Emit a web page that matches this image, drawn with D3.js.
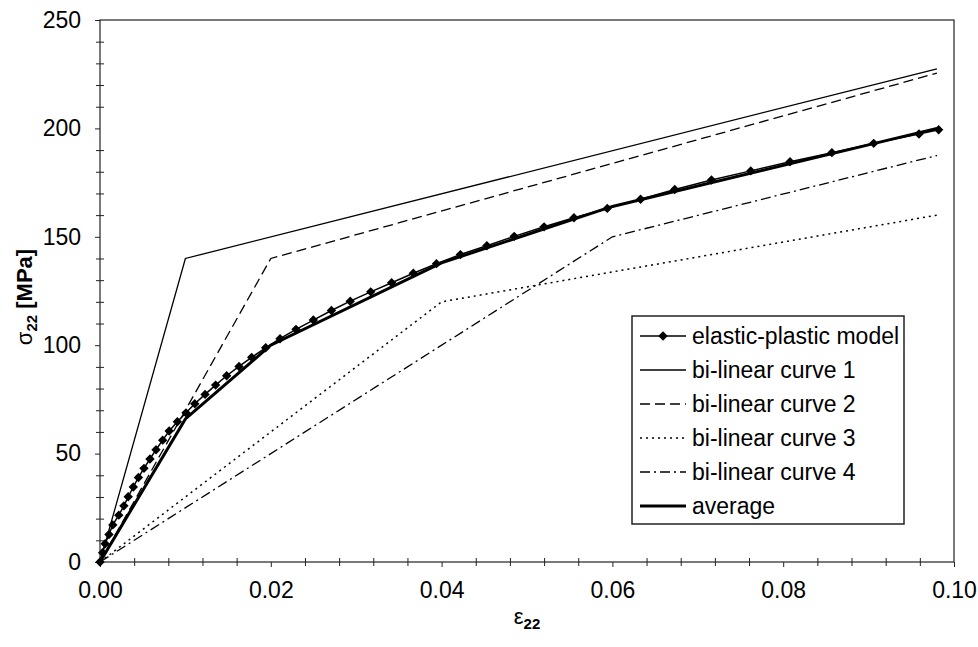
<!DOCTYPE html>
<html>
<head>
<meta charset="utf-8">
<script src="https://cdn.jsdelivr.net/npm/d3@7"></script>
<style>
  body { margin: 0; background: #fff; }
  svg text { font-family: "Liberation Sans", Arial, sans-serif; fill: #000; }
</style>
</head>
<body>
<div id="grafico"></div>
<script>
// dados
const epStrain = [0, 0.0003, 0.0006, 0.00105, 0.0015, 0.0022, 0.0028, 0.0033, 0.0039, 0.0045,
  0.00515, 0.00585, 0.00656, 0.00734, 0.0081, 0.00906, 0.01007, 0.0111, 0.0123, 0.01354,
  0.01483, 0.01628, 0.01776, 0.0194, 0.02108, 0.02295, 0.02498, 0.0271, 0.0293, 0.0317,
  0.03415, 0.03669, 0.0394, 0.0422, 0.0453, 0.0485, 0.052, 0.0555, 0.0594, 0.0633,
  0.0673, 0.0716, 0.0762, 0.0808, 0.0857, 0.0906, 0.0959, 0.0982];
const epStress = [0, 4.3, 8.4, 12.7, 17.1, 21.6, 25.9, 30.1, 34.6, 39.0,
  43.2, 47.5, 51.8, 56.2, 60.4, 64.7, 68.8, 73.0, 77.3, 81.6,
  85.9, 90.2, 94.4, 98.8, 103.0, 107.3, 111.6, 116.0, 120.3, 124.6,
  128.8, 133.2, 137.6, 141.8, 145.9, 150.2, 154.6, 158.8, 163.1, 167.3,
  171.8, 176.2, 180.4, 184.6, 188.8, 193.1, 197.4, 199.4];

const curve1Strain = [0, 0.01, 0.098];
const curve1Stress = [0, 140, 227.5];
const curve2Strain = [0, 0.02, 0.098];
const curve2Stress = [0, 140, 225.5];
const curve3Strain = [0, 0.04, 0.098];
const curve3Stress = [0, 120, 160];
const curve4Strain = [0, 0.06, 0.098];
const curve4Stress = [0, 150, 187.5];
const avgStrain = [0, 0.01, 0.02, 0.04, 0.06, 0.098];
const avgStress = [0, 66, 100, 138, 164, 200];

const legendLabels = ["elastic-plastic model", "bi-linear curve 1", "bi-linear curve 2",
  "bi-linear curve 3", "bi-linear curve 4", "average"];

const xMajor = [0, 0.02, 0.04, 0.06, 0.08, 0.10];
const yMajor = [0, 50, 100, 150, 200, 250];

//=============================
//  atributos gerais
//=============================
const canvasWidth = 978, canvasHeight = 647;
const marginLeft = 100, marginTop = 20, graphWidth = 854, graphHeight = 542;
const fontSize = "23px";

const svg = d3.select("#grafico")
  .append("svg")
  .attr("width", canvasWidth)
  .attr("height", canvasHeight);

const chart = svg.append("g").attr("transform", `translate(${marginLeft}, ${marginTop})`);

const x = d3.scaleLinear().domain([0, 0.1]).range([0, graphWidth]);
const y = d3.scaleLinear().domain([0, 250]).range([graphHeight, 0]);

const xMinor = d3.range(0, 0.1001, 0.004).filter(v => !xMajor.some(m => Math.abs(m - v) < 1e-9));
const yMinor = d3.range(0, 251, 10).filter(v => v % 50 !== 0);

// moldura
chart.append("rect")
  .attr("width", graphWidth).attr("height", graphHeight)
  .attr("fill", "none").attr("stroke", "#222").attr("stroke-width", 1.2);

//============X axis============
const xAxis = chart.append("g")
  .attr("transform", `translate(0, ${graphHeight})`)
  .call(d3.axisBottom(x).tickValues(xMajor).tickSize(5).tickPadding(15).tickFormat(d3.format(".2f")));
xAxis.select(".domain").remove();
xAxis.selectAll("text").style("font-size", fontSize);

chart.append("g")
  .attr("transform", `translate(0, ${graphHeight - 4})`)
  .call(d3.axisBottom(x).tickValues(xMinor).tickSize(8).tickFormat(""))
  .select(".domain").remove();

//============Y axis============
const yAxis = chart.append("g")
  .call(d3.axisLeft(y).tickValues(yMajor).tickSize(5).tickPadding(14));
yAxis.select(".domain").remove();
yAxis.selectAll("text").style("font-size", fontSize);

chart.append("g")
  .attr("transform", "translate(4, 0)")
  .call(d3.axisLeft(y).tickValues(yMinor).tickSize(8).tickFormat(""))
  .select(".domain").remove();

chart.selectAll(".tick line").attr("stroke", "#222");

// títulos dos eixos
const yTitle = svg.append("text")
  .attr("transform", `translate(32, ${marginTop + 277}) rotate(-90)`)
  .style("text-anchor", "middle")
  .style("font-size", "22px");
yTitle.append("tspan").text("σ");
yTitle.append("tspan").attr("dy", 5).style("font-size", "15px").style("font-weight", "bold").text("22");
yTitle.append("tspan").attr("dy", -5).style("font-weight", "bold").text(" [MPa]");

const xTitle = svg.append("text")
  .attr("x", marginLeft + x(0.05))
  .attr("y", 624)
  .style("text-anchor", "middle")
  .style("font-size", "22px");
xTitle.append("tspan").text("ε");
xTitle.append("tspan").attr("dy", 5).style("font-size", "15px").style("font-weight", "bold").text("22");

//============Linhas============
const line = d3.line().x(d => x(d[0])).y(d => y(d[1]));
const zip = (a, b) => a.map((v, i) => [v, b[i]]);

const series = [
  { pts: zip(curve1Strain, curve1Stress), width: 1.3, dash: null },
  { pts: zip(curve2Strain, curve2Stress), width: 1.3, dash: "10,5" },
  { pts: zip(curve3Strain, curve3Stress), width: 1.5, dash: "2,4" },
  { pts: zip(curve4Strain, curve4Stress), width: 1.3, dash: "10,4,2,4" },
  { pts: zip(avgStrain, avgStress), width: 3, dash: null },
  { pts: zip(epStrain, epStress), width: 1.5, dash: null }
];

series.forEach(s => {
  chart.append("path")
    .datum(s.pts)
    .attr("fill", "none")
    .attr("stroke", "#000")
    .attr("stroke-width", s.width)
    .attr("stroke-dasharray", s.dash)
    .attr("d", line);
});

// marcadores losango
const diamond = d3.symbol().type(d3.symbolSquare).size(44);
chart.selectAll(".marker")
  .data(zip(epStrain, epStress))
  .join("path")
  .attr("class", "marker")
  .attr("d", diamond)
  .attr("fill", "#000")
  .attr("transform", d => `translate(${x(d[0])}, ${y(d[1])}) rotate(45)`);

//============Legenda============
const legend = svg.append("g").attr("transform", "translate(632, 316)");
legend.append("rect")
  .attr("width", 272).attr("height", 208)
  .attr("fill", "#fff").attr("stroke", "#222").attr("stroke-width", 1.5);

const legendStyles = [
  { width: 1.5, dash: null, marker: true },
  { width: 1.3, dash: null },
  { width: 1.3, dash: "10,5" },
  { width: 1.5, dash: "2,4" },
  { width: 1.3, dash: "10,4,2,4" },
  { width: 3, dash: null }
];

legendLabels.forEach((lab, i) => {
  const row = legend.append("g").attr("transform", `translate(0, ${20 + i * 34})`);
  const st = legendStyles[i];
  row.append("line")
    .attr("x1", 8).attr("x2", 54)
    .attr("stroke", "#000")
    .attr("stroke-width", st.width)
    .attr("stroke-dasharray", st.dash);
  if (st.marker) {
    row.append("path").attr("d", diamond).attr("transform", "translate(31, 0) rotate(45)");
  }
  row.append("text")
    .attr("x", 60)
    .attr("y", 8)
    .style("font-size", fontSize)
    .text(lab);
});
</script>
</body>
</html>
